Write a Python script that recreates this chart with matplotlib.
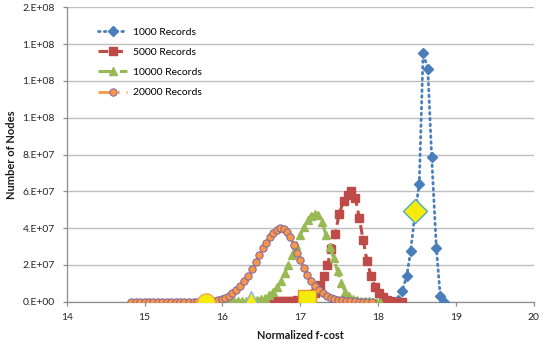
import matplotlib
matplotlib.use("Agg")
import matplotlib.pyplot as plt

plt.rcParams['font.family'] = ['Lato', 'DejaVu Sans']

# ---------------- data (values in nodes) ----------------
x_1000 = [18.20, 18.26, 18.31, 18.37, 18.42, 18.48, 18.53, 18.58, 18.64, 18.69, 18.75, 18.80, 18.85]
y_1000 = [0.0, 0.1, 0.58, 1.41, 2.77, 4.95, 6.38, 13.53, 12.65, 7.86, 2.92, 0.31, 0.0]

x_5000 = [16.45, 16.50, 16.55, 16.60, 16.65, 16.70, 16.76, 16.81, 16.86, 16.91, 16.96, 17.02,
          17.08, 17.14, 17.19, 17.25, 17.30, 17.35, 17.40, 17.45, 17.50, 17.56, 17.61, 17.65,
          17.71, 17.76, 17.81, 17.86, 17.91, 17.96, 18.01, 18.06, 18.11, 18.16, 18.21, 18.26, 18.31]
y_5000 = [0.0, 0.0, 0.0, 0.01, 0.01, 0.02, 0.02, 0.03, 0.04, 0.05, 0.07, 0.1,
          0.16, 0.25, 0.46, 0.91, 1.38, 1.99, 2.85, 3.68, 4.75, 5.5, 5.8, 6.03,
          5.62, 4.53, 3.35, 2.2, 1.4, 0.82, 0.46, 0.25, 0.1, 0.04, 0.01, 0.0, 0.0]

x_10000 = [15.80, 15.85, 15.90, 15.95, 16.00, 16.05, 16.10, 16.15, 16.20, 16.25, 16.30, 16.35,
           16.40, 16.45, 16.50, 16.55, 16.60, 16.65, 16.70, 16.75, 16.80, 16.85, 16.90, 16.95,
           17.00, 17.05, 17.10, 17.14, 17.19, 17.23, 17.28, 17.33, 17.38, 17.43, 17.48, 17.53,
           17.58, 17.63, 17.68, 17.73, 17.78, 17.83, 17.88, 17.93, 17.98, 18.03]
y_10000 = [0.0, 0.0, 0.0, 0.01, 0.01, 0.02, 0.02, 0.03, 0.04, 0.05, 0.06, 0.07,
           0.09, 0.11, 0.14, 0.22, 0.38, 0.55, 0.78, 1.1, 1.55, 2.0, 2.55, 3.1,
           3.6, 4.05, 4.45, 4.68, 4.78, 4.7, 4.35, 3.65, 3.0, 2.35, 1.65, 1.0,
           0.55, 0.3, 0.17, 0.1, 0.06, 0.03, 0.02, 0.01, 0.0, 0.0]

x_20000 = [14.83, 14.89, 14.94, 15.00, 15.06, 15.11, 15.17, 15.23, 15.29, 15.34, 15.40, 15.46,
           15.51, 15.57, 15.63, 15.68, 15.74, 15.79, 15.84, 15.89, 15.94, 15.99, 16.04, 16.09,
           16.13, 16.18, 16.23, 16.28, 16.33, 16.38, 16.43, 16.47, 16.52, 16.56, 16.61, 16.65,
           16.70, 16.74, 16.79, 16.83, 16.87, 16.92, 16.96, 17.00, 17.05, 17.09, 17.14, 17.19,
           17.24, 17.29, 17.34, 17.39, 17.44, 17.49, 17.54, 17.59, 17.64, 17.70, 17.75, 17.81,
           17.86, 17.92]
y_20000 = [0.0, 0.0, 0.0, 0.0, 0.0, 0.0, 0.0, 0.0, 0.0, 0.0, 0.0, 0.0,
           0.0, 0.0, 0.0, 0.0, 0.0, 0.0, 0.03, 0.06, 0.1, 0.15, 0.22, 0.33,
           0.46, 0.64, 0.86, 1.11, 1.42, 1.76, 2.17, 2.55, 2.9, 3.2, 3.5, 3.75,
           3.92, 4.0, 3.95, 3.78, 3.5, 3.1, 2.65, 2.25, 1.82, 1.45, 1.12, 0.85,
           0.62, 0.45, 0.32, 0.22, 0.15, 0.1, 0.07, 0.05, 0.03, 0.02, 0.01, 0.0,
           0.0, 0.0]

# highlighted points (yellow)
hl_x = [15.79, 16.37, 17.09, 18.48]
hl_y = [0.0, 0.09, 0.16, 4.95]

SCALE = 1e7
labels = ["1000 Records", "5000 Records", "10000 Records", "20000 Records"]
y_ticks = [0, 2e7, 4e7, 6e7, 8e7, 1e8, 1.2e8, 1.4e8, 1.6e8]
y_tick_labels = ["0.E+00", "2.E+07", "4.E+07", "6.E+07", "8.E+07",
                 "1.E+08", "1.E+08", "1.E+08", "2.E+08"]
x_ticks = [14, 15, 16, 17, 18, 19, 20]

# ---------------- plot ----------------
fig = plt.figure(figsize=(5.53, 3.45), dpi=100)
ax = fig.add_axes([0.1206, 0.1255, 0.965 - 0.1206, 0.9788 - 0.1255])

sc = lambda ys: [v * SCALE for v in ys]

ax.plot(x_1000, sc(y_1000), color='#4A7EBB', linestyle=(0, (0.6, 1.5)), linewidth=2.0,
        dash_capstyle='round', marker='D', markersize=4.8, markerfacecolor='#4A7EBB',
        markeredgecolor='#4A7EBB', label=labels[0], zorder=3)
ax.plot(x_5000, sc(y_5000), color='#BE4B48', linestyle=(0, (3.2, 1.6)), linewidth=2.2,
        marker='s', markersize=5.5, markerfacecolor='#BE4B48', markeredgecolor='#BE4B48',
        label=labels[1], zorder=4)
ax.plot(x_10000, sc(y_10000), color='#98B954', linestyle=(0, (4.5, 2.5)), linewidth=2.2,
        marker='^', markersize=5.5, markerfacecolor='#98B954', markeredgecolor='#98B954',
        label=labels[2], zorder=5)
ax.plot(x_20000, sc(y_20000), color='#F79646', linestyle=(0, (4.5, 2.5, 0.6, 2.5)), linewidth=2.0,
        marker='o', markersize=5.3, markerfacecolor='#F79646', markeredgecolor='#8064A2',
        markeredgewidth=0.7, label=labels[3], zorder=6)

hl_markers = ['o', '^', 's', 'D']
hl_edges = ['#F0A860', '#8EB4E3', '#E8962E', '#4BACC6']
hl_sizes = [12.5, 13.5, 12.5, 12]
for xv, yv, m, ec, ms in zip(hl_x, hl_y, hl_markers, hl_edges, hl_sizes):
    ax.plot([xv], [yv * SCALE], marker=m, markersize=ms, markerfacecolor='#F5EC0C',
            markeredgecolor=ec, markeredgewidth=1.0, linestyle='none', zorder=8)

ax.set_xlim(14, 20)
ax.set_ylim(0, 1.6e8)
ax.set_xticks(x_ticks)
ax.set_xticklabels([str(t) for t in x_ticks])
ax.set_yticks(y_ticks)
ax.set_yticklabels(y_tick_labels)

ax.yaxis.grid(True, color='#BEBEBE', linewidth=1.0)
ax.set_axisbelow(True)
for s in ['top', 'right']:
    ax.spines[s].set_visible(False)
for s in ['left', 'bottom']:
    ax.spines[s].set_color('#8C8C8C')
    ax.spines[s].set_linewidth(0.9)
ax.tick_params(axis='both', direction='out', length=3, width=0.9, color='#8C8C8C',
               labelsize=7.5, labelcolor='#262626')
ax.tick_params(axis='y', pad=5.5)
ax.tick_params(axis='x', pad=5)

ax.set_xlabel("Normalized f-cost", fontsize=7.8, fontweight='bold', color='#1a1a1a')
ax.xaxis.set_label_coords(0.5, -0.095)
ax.set_ylabel("Number of Nodes", fontsize=8, fontweight='bold', color='#1a1a1a')
ax.yaxis.set_label_coords(-0.106, 0.5)

leg = ax.legend(loc='upper left', bbox_to_anchor=(0.058, 0.946), frameon=False, fontsize=7.5,
                handlelength=2.8, labelspacing=1.05, handletextpad=0.58, borderaxespad=0)

fig.savefig("out.png", dpi=100)
